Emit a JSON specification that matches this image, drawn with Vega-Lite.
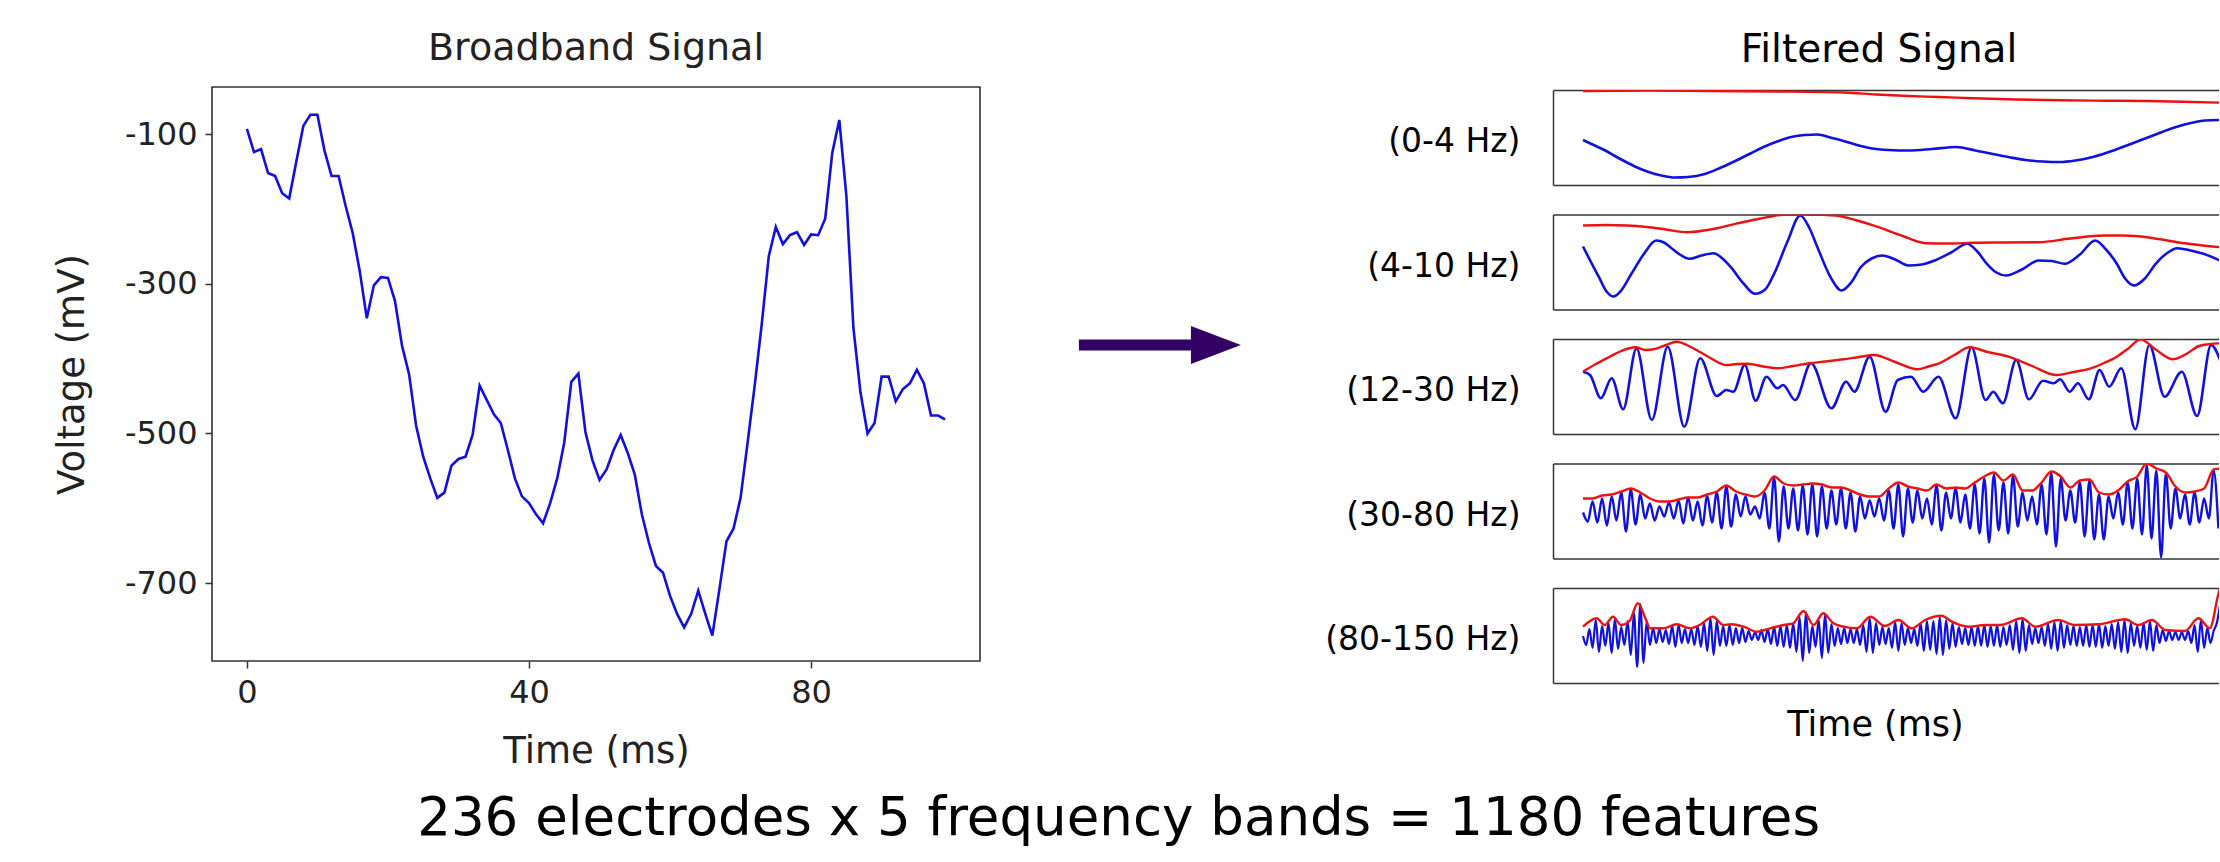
{
  "$schema": "https://vega.github.io/schema/vega-lite/v6.json",
  "background": "white",
  "padding": {"left": 52, "top": 29, "right": 0, "bottom": 0},
  "autosize": {"type": "pad"},
  "config": {"view": {"stroke": null}, "font": "DejaVu Sans"},
  "title": {"text": "236 electrodes x 5 frequency bands = 1180 features", "orient": "bottom", "anchor": "middle", "frame": "bounds", "dx": -17, "offset": 65, "fontSize": 53, "font": "DejaVu Sans", "fontWeight": "normal", "color": "#000000", "baseline": "alphabetic"},
  "bounds": "flush",
  "spacing": 20,
  "hconcat": [
    {
      "width": 768, "height": 574,
      "view": {"stroke": "#333333", "strokeWidth": 1.6},
      "title": {"text": "Broadband Signal", "fontSize": 38, "font": "DejaVu Sans", "fontWeight": "normal", "color": "#222222", "baseline": "middle", "offset": 0},
      "data": {"name": "bb"},
      "mark": {"type": "line", "color": "#1010e0", "strokeWidth": 2.6},
      "encoding": {
        "x": {"field": "t", "type": "quantitative", "scale": {"domain": [-4.95, 103.95], "nice": false, "zero": false},
          "axis": {"values": [0, 40, 80], "title": "Time (ms)", "grid": false, "domain": false, "labelFont": "DejaVu Sans", "labelFontSize": 32, "labelColor": "#222222", "labelBaseline": "middle", "labelPadding": 24, "labelFlush": false, "labelOverlap": false, "tickSize": 7, "tickColor": "#333333", "tickWidth": 1.5, "titleFont": "DejaVu Sans", "titleFontSize": 37, "titleFontWeight": "normal", "titleColor": "#222222", "titleBaseline": "middle", "titleY": 90}},
        "y": {"field": "v", "type": "quantitative", "scale": {"domain": [-804, -37], "nice": false, "zero": false},
          "axis": {"values": [-100, -300, -500, -700], "labelExpr": "'-' + format(abs(datum.value), 'd')", "title": "Voltage (mV)", "grid": false, "domain": false, "labelFont": "DejaVu Sans", "labelFontSize": 32, "labelColor": "#222222", "labelPadding": 8, "labelFlush": false, "labelOverlap": false, "tickSize": 7, "tickColor": "#333333", "tickWidth": 1.5, "titleFont": "DejaVu Sans", "titleFontSize": 37, "titleFontWeight": "normal", "titleColor": "#222222", "titleBaseline": "middle", "titleAngle": 270, "titleX": -140, "titleY": 287}}
      }
    },
    {
      "width": 533, "height": 516,
      "data": {"values": [{"item": "arrow"}]},
      "mark": {"type": "point", "shape": "M -1 -0.068 L 0.383 -0.068 L 0.383 -0.235 L 1 0 L 0.383 0.235 L 0.383 0.068 L -1 0.068 Z", "filled": true, "color": "#330066", "opacity": 1, "size": 26244, "strokeWidth": 0},
      "encoding": {
        "x": {"datum": 0.3, "type": "quantitative", "scale": {"domain": [0, 1], "nice": false, "zero": false}, "axis": null},
        "y": {"datum": 0.5, "type": "quantitative", "scale": {"domain": [0, 1], "nice": false, "zero": false}, "axis": null}
      }
    },
    {
      "bounds": "flush",
      "spacing": 2,
      "vconcat": [
        {"width": 666, "height": 1, "data": {"values": [{"s": ""}]}, "mark": {"type": "text"}, "encoding": {"text": {"field": "s"}}},
        {
          "bounds": "flush",
          "spacing": 29.5,
          "vconcat": [
            {
              "width": 666, "height": 95,
              "title": {"text": "Filtered Signal", "frame": "group", "anchor": "middle", "dx": -7, "fontSize": 39, "font": "DejaVu Sans", "fontWeight": "normal", "color": "#000000", "baseline": "middle", "offset": 1},
              "encoding": {"y": {"field": "v", "type": "quantitative", "scale": {"domain": [0, 95], "nice": false, "zero": false}, "axis": {"title": "(0-4 Hz)", "domain": true, "domainColor": "#333333", "domainWidth": 1.5, "ticks": false, "labels": false, "grid": false, "titleAngle": 0, "titleAlign": "right", "titleBaseline": "middle", "titleX": -33, "titleY": 51.5, "titleFontSize": 33, "titleFont": "DejaVu Sans", "titleFontWeight": "normal", "titleColor": "#000000"}}},
              "layer": [
                {"data": {"name": "b1"}, "mark": {"type": "line", "color": "#1010e0", "strokeWidth": 2.6, "interpolate": "monotone", "clip": true},
                  "encoding": {"x": {"field": "t", "type": "quantitative", "scale": {"domain": [-4.71, 99.84], "nice": false, "zero": false}, "axis": {"orient": "bottom", "title": null, "domain": true, "domainColor": "#333333", "domainWidth": 1.5, "ticks": false, "labels": false, "grid": false}}}},
                {"data": {"name": "r1"}, "mark": {"type": "line", "color": "#ee1111", "strokeWidth": 2.4, "interpolate": "monotone", "clip": true},
                  "encoding": {"x": {"field": "t", "type": "quantitative", "scale": {"domain": [-4.71, 99.84], "nice": false, "zero": false}, "axis": {"orient": "top", "title": null, "domain": true, "domainColor": "#333333", "domainWidth": 1.5, "ticks": false, "labels": false, "grid": false}}}}
              ],
              "resolve": {"axis": {"x": "independent"}}
            },
            {
              "width": 666, "height": 95,
              "encoding": {"y": {"field": "v", "type": "quantitative", "scale": {"domain": [0, 95], "nice": false, "zero": false}, "axis": {"title": "(4-10 Hz)", "domain": true, "domainColor": "#333333", "domainWidth": 1.5, "ticks": false, "labels": false, "grid": false, "titleAngle": 0, "titleAlign": "right", "titleBaseline": "middle", "titleX": -33, "titleY": 51.5, "titleFontSize": 33, "titleFont": "DejaVu Sans", "titleFontWeight": "normal", "titleColor": "#000000"}}},
              "layer": [
                {"data": {"name": "b2"}, "mark": {"type": "line", "color": "#1010e0", "strokeWidth": 2.6, "interpolate": "monotone", "clip": true},
                  "encoding": {"x": {"field": "t", "type": "quantitative", "scale": {"domain": [-4.71, 99.84], "nice": false, "zero": false}, "axis": {"orient": "bottom", "title": null, "domain": true, "domainColor": "#333333", "domainWidth": 1.5, "ticks": false, "labels": false, "grid": false}}}},
                {"data": {"name": "r2"}, "mark": {"type": "line", "color": "#ee1111", "strokeWidth": 2.4, "interpolate": "monotone", "clip": true},
                  "encoding": {"x": {"field": "t", "type": "quantitative", "scale": {"domain": [-4.71, 99.84], "nice": false, "zero": false}, "axis": {"orient": "top", "title": null, "domain": true, "domainColor": "#333333", "domainWidth": 1.5, "ticks": false, "labels": false, "grid": false}}}}
              ],
              "resolve": {"axis": {"x": "independent"}}
            },
            {
              "width": 666, "height": 95,
              "encoding": {"y": {"field": "v", "type": "quantitative", "scale": {"domain": [0, 95], "nice": false, "zero": false}, "axis": {"title": "(12-30 Hz)", "domain": true, "domainColor": "#333333", "domainWidth": 1.5, "ticks": false, "labels": false, "grid": false, "titleAngle": 0, "titleAlign": "right", "titleBaseline": "middle", "titleX": -33, "titleY": 51.5, "titleFontSize": 33, "titleFont": "DejaVu Sans", "titleFontWeight": "normal", "titleColor": "#000000"}}},
              "layer": [
                {"data": {"name": "b3"}, "mark": {"type": "line", "color": "#1010e0", "strokeWidth": 2.6, "interpolate": "monotone", "clip": true},
                  "encoding": {"x": {"field": "t", "type": "quantitative", "scale": {"domain": [-4.71, 99.84], "nice": false, "zero": false}, "axis": {"orient": "bottom", "title": null, "domain": true, "domainColor": "#333333", "domainWidth": 1.5, "ticks": false, "labels": false, "grid": false}}}},
                {"data": {"name": "r3"}, "mark": {"type": "line", "color": "#ee1111", "strokeWidth": 2.4, "interpolate": "monotone", "clip": true},
                  "encoding": {"x": {"field": "t", "type": "quantitative", "scale": {"domain": [-4.71, 99.84], "nice": false, "zero": false}, "axis": {"orient": "top", "title": null, "domain": true, "domainColor": "#333333", "domainWidth": 1.5, "ticks": false, "labels": false, "grid": false}}}}
              ],
              "resolve": {"axis": {"x": "independent"}}
            },
            {
              "width": 666, "height": 95,
              "encoding": {"y": {"field": "v", "type": "quantitative", "scale": {"domain": [0, 95], "nice": false, "zero": false}, "axis": {"title": "(30-80 Hz)", "domain": true, "domainColor": "#333333", "domainWidth": 1.5, "ticks": false, "labels": false, "grid": false, "titleAngle": 0, "titleAlign": "right", "titleBaseline": "middle", "titleX": -33, "titleY": 51.5, "titleFontSize": 33, "titleFont": "DejaVu Sans", "titleFontWeight": "normal", "titleColor": "#000000"}}},
              "layer": [
                {"data": {"name": "b4"}, "mark": {"type": "line", "color": "#1010e0", "strokeWidth": 2.4, "interpolate": "monotone", "clip": true},
                  "encoding": {"x": {"field": "t", "type": "quantitative", "scale": {"domain": [-4.71, 99.84], "nice": false, "zero": false}, "axis": {"orient": "bottom", "title": null, "domain": true, "domainColor": "#333333", "domainWidth": 1.5, "ticks": false, "labels": false, "grid": false}}}},
                {"data": {"name": "r4"}, "mark": {"type": "line", "color": "#ee1111", "strokeWidth": 2.4, "interpolate": "monotone", "clip": true},
                  "encoding": {"x": {"field": "t", "type": "quantitative", "scale": {"domain": [-4.71, 99.84], "nice": false, "zero": false}, "axis": {"orient": "top", "title": null, "domain": true, "domainColor": "#333333", "domainWidth": 1.5, "ticks": false, "labels": false, "grid": false}}}}
              ],
              "resolve": {"axis": {"x": "independent"}}
            },
            {
              "width": 666, "height": 95,
              "encoding": {"y": {"field": "v", "type": "quantitative", "scale": {"domain": [0, 95], "nice": false, "zero": false}, "axis": {"title": "(80-150 Hz)", "domain": true, "domainColor": "#333333", "domainWidth": 1.5, "ticks": false, "labels": false, "grid": false, "titleAngle": 0, "titleAlign": "right", "titleBaseline": "middle", "titleX": -33, "titleY": 51.5, "titleFontSize": 33, "titleFont": "DejaVu Sans", "titleFontWeight": "normal", "titleColor": "#000000"}}},
              "layer": [
                {"data": {"name": "b5"}, "mark": {"type": "line", "color": "#1010e0", "strokeWidth": 2.2, "interpolate": "monotone", "clip": true},
                  "encoding": {"x": {"field": "t", "type": "quantitative", "scale": {"domain": [-4.71, 99.84], "nice": false, "zero": false}, "axis": {"orient": "bottom", "title": "Time (ms)", "domain": true, "domainColor": "#333333", "domainWidth": 1.5, "ticks": false, "labels": false, "grid": false, "titleFont": "DejaVu Sans", "titleFontSize": 35, "titleFontWeight": "normal", "titleColor": "#000000", "titleBaseline": "middle", "titleX": 322, "titleY": 41}}}},
                {"data": {"name": "r5"}, "mark": {"type": "line", "color": "#ee1111", "strokeWidth": 2.4, "interpolate": "monotone", "clip": true},
                  "encoding": {"x": {"field": "t", "type": "quantitative", "scale": {"domain": [-4.71, 99.84], "nice": false, "zero": false}, "axis": {"orient": "top", "title": null, "domain": true, "domainColor": "#333333", "domainWidth": 1.5, "ticks": false, "labels": false, "grid": false}}}}
              ],
              "resolve": {"axis": {"x": "independent"}}
            }
          ]
        }
      ]
    }
  ],
  "datasets": {
    "bb": [
      {"t":0,"v":-93},{"t":1,"v":-124},{"t":2,"v":-120},{"t":3,"v":-152},{"t":4,"v":-156},{"t":5,"v":-179},{"t":6,"v":-186},{"t":7,"v":-137},{"t":8,"v":-89},{"t":9,"v":-74},
      {"t":10,"v":-74},{"t":11,"v":-122},{"t":12,"v":-156},{"t":13,"v":-156},{"t":14,"v":-196},{"t":15,"v":-232},{"t":16,"v":-283},{"t":17,"v":-346},{"t":18,"v":-302},{"t":19,"v":-291},
      {"t":20,"v":-292},{"t":21,"v":-323},{"t":22,"v":-383},{"t":23,"v":-421},{"t":24,"v":-490},{"t":25,"v":-531},{"t":26,"v":-560},{"t":27,"v":-586},{"t":28,"v":-579},{"t":29,"v":-543},
      {"t":30,"v":-534},{"t":31,"v":-531},{"t":32,"v":-502},{"t":33,"v":-436},{"t":34,"v":-455},{"t":35,"v":-474},{"t":36,"v":-486},{"t":37,"v":-522},{"t":38,"v":-560},{"t":39,"v":-584},
      {"t":40,"v":-593},{"t":41,"v":-608},{"t":42,"v":-620},{"t":43,"v":-593},{"t":44,"v":-560},{"t":45,"v":-512},{"t":46,"v":-431},{"t":47,"v":-420},{"t":48,"v":-498},{"t":49,"v":-536},
      {"t":50,"v":-562},{"t":51,"v":-548},{"t":52,"v":-522},{"t":53,"v":-502},{"t":54,"v":-526},{"t":55,"v":-555},{"t":56,"v":-608},{"t":57,"v":-646},{"t":58,"v":-677},{"t":59,"v":-686},
      {"t":60,"v":-717},{"t":61,"v":-741},{"t":62,"v":-759},{"t":63,"v":-741},{"t":64,"v":-710},{"t":65,"v":-741},{"t":66,"v":-770},{"t":67,"v":-708},{"t":68,"v":-644},{"t":69,"v":-627},
      {"t":70,"v":-586},{"t":71,"v":-512},{"t":72,"v":-436},{"t":73,"v":-354},{"t":74,"v":-263},{"t":75,"v":-224},{"t":76,"v":-247},{"t":77,"v":-235},{"t":78,"v":-231},{"t":79,"v":-248},
      {"t":80,"v":-234},{"t":81,"v":-235},{"t":82,"v":-213},{"t":83,"v":-125},{"t":84,"v":-81},{"t":85,"v":-182},{"t":86,"v":-359},{"t":87,"v":-445},{"t":88,"v":-500},{"t":89,"v":-486},
      {"t":90,"v":-424},{"t":91,"v":-424},{"t":92,"v":-457},{"t":93,"v":-441},{"t":94,"v":-433},{"t":95,"v":-415},{"t":96,"v":-433},{"t":97,"v":-476},{"t":98,"v":-476},{"t":99,"v":-481}
    ],
    "b1": [
      {"t":0,"v":45},{"t":1.5,"v":40.5},{"t":3.5,"v":34.5},{"t":5,"v":29},{"t":6.9,"v":22.5},{"t":8.5,"v":17.5},{"t":10.3,"v":13},{"t":12.3,"v":9.5},{"t":14.4,"v":7.5},{"t":16.5,"v":8},
      {"t":19.1,"v":11},{"t":21.5,"v":17},{"t":23.9,"v":24},{"t":26.3,"v":31.5},{"t":28.7,"v":39},{"t":30.7,"v":44},{"t":32.7,"v":48},{"t":34.8,"v":50},{"t":36.8,"v":50.5},{"t":38.8,"v":47.5},
      {"t":40.9,"v":44},{"t":43,"v":40},{"t":45,"v":37},{"t":48,"v":35},{"t":51.1,"v":34.5},{"t":54.8,"v":36},{"t":58.6,"v":38},{"t":61.6,"v":34.5},{"t":64.7,"v":30.5},{"t":67.1,"v":27.5},
      {"t":69.5,"v":25},{"t":72.2,"v":23.5},{"t":74.9,"v":23},{"t":77.3,"v":24.5},{"t":79.7,"v":27.5},{"t":82.1,"v":32},{"t":84.5,"v":37.5},{"t":87.2,"v":44},{"t":89.9,"v":50.5},{"t":92.6,"v":57},
      {"t":95.4,"v":62},{"t":97.7,"v":64.5},{"t":100,"v":65}
    ],
    "r1": [
      {"t":0,"v":94},{"t":10,"v":94.5},{"t":20,"v":94},{"t":30,"v":93.5},{"t":40.9,"v":92.5},{"t":46,"v":90.5},{"t":51.1,"v":89},{"t":56,"v":88},{"t":61.3,"v":86.7},{"t":68,"v":85.5},
      {"t":74.9,"v":84.7},{"t":82,"v":84.3},{"t":88.5,"v":84},{"t":94,"v":83.3},{"t":100,"v":82.3}
    ],
    "b2": [
      {"t":0,"v":63},{"t":1.2,"v":48},{"t":2.5,"v":32.3},{"t":3.7,"v":18},{"t":4.8,"v":13},{"t":6,"v":19},{"t":7.6,"v":35.7},{"t":9.5,"v":55},{"t":11.5,"v":69},{"t":12.7,"v":67},
      {"t":13.7,"v":62.3},{"t":15.2,"v":55},{"t":16.7,"v":50.7},{"t":18.6,"v":54},{"t":20.5,"v":56.3},{"t":21.9,"v":51},{"t":23.2,"v":42.3},{"t":25.2,"v":26},{"t":27,"v":15.7},{"t":28.6,"v":20},
      {"t":30,"v":35.7},{"t":32.1,"v":68},{"t":34.1,"v":94},{"t":35.5,"v":82},{"t":36.8,"v":62.3},{"t":38.8,"v":33},{"t":40.6,"v":19},{"t":42.1,"v":27},{"t":43.6,"v":42.3},{"t":45.3,"v":51},
      {"t":47,"v":54},{"t":49,"v":50},{"t":51.1,"v":44},{"t":53.2,"v":45},{"t":55.2,"v":49},{"t":57.8,"v":57},{"t":60.3,"v":65.7},{"t":61.9,"v":58},{"t":63.4,"v":45.7},{"t":64.9,"v":37},
      {"t":66.4,"v":34},{"t":68.9,"v":40},{"t":71.5,"v":49},{"t":73.6,"v":48.5},{"t":75.6,"v":45.7},{"t":78,"v":55},{"t":80.4,"v":69},{"t":82.1,"v":60},{"t":83.8,"v":45.7},{"t":85.1,"v":31},
      {"t":86.5,"v":24},{"t":88.2,"v":31},{"t":89.9,"v":45.7},{"t":91.6,"v":56},{"t":93.3,"v":61.3},{"t":95.4,"v":59},{"t":97.4,"v":55.7},{"t":100,"v":49}
    ],
    "r2": [
      {"t":0,"v":84},{"t":3.5,"v":84.5},{"t":6.9,"v":84},{"t":10,"v":82.5},{"t":13,"v":80},{"t":16.4,"v":77.3},{"t":20,"v":80},{"t":23.9,"v":85.7},{"t":27.5,"v":90.5},{"t":31.4,"v":94.7},
      {"t":35.5,"v":95},{"t":39.6,"v":94},{"t":43,"v":89},{"t":46.4,"v":82.3},{"t":50,"v":74},{"t":53.8,"v":66.3},{"t":57.5,"v":66},{"t":61.3,"v":66.7},{"t":66,"v":67},{"t":71.5,"v":67.3},
      {"t":76.5,"v":71},{"t":81.8,"v":74},{"t":84.5,"v":74},{"t":87.2,"v":73.3},{"t":90.3,"v":70.5},{"t":93.3,"v":67.3},{"t":96.7,"v":64.5},{"t":100,"v":62.3}
    ],
    "b3": [
      {"t":0,"v":62.3},{"t":1.1,"v":59},{"t":2.8,"v":35.7},{"t":4.5,"v":55.7},{"t":6.3,"v":24.7},{"t":8.4,"v":85.7},{"t":10.8,"v":14},{"t":13.3,"v":87.3},{"t":15.9,"v":7.3},{"t":18.4,"v":75.7},
      {"t":21,"v":38},{"t":22.5,"v":44},{"t":23.6,"v":42.3},{"t":25.4,"v":69},{"t":27.1,"v":33.3},{"t":28.8,"v":57.3},{"t":30.5,"v":45.7},{"t":31.4,"v":49},{"t":33.3,"v":34},{"t":35.8,"v":70.7},
      {"t":39,"v":25.7},{"t":41.3,"v":52.3},{"t":42.6,"v":42.3},{"t":45,"v":77.3},{"t":47.5,"v":22.3},{"t":49.4,"v":54},{"t":51.5,"v":57.3},{"t":53.4,"v":42.3},{"t":55.8,"v":57.3},{"t":58.5,"v":15.7},
      {"t":61,"v":86.7},{"t":63.2,"v":34},{"t":64.4,"v":42.3},{"t":65.9,"v":30.7},{"t":68,"v":74},{"t":70,"v":34.7},{"t":72.2,"v":53.3},{"t":73.9,"v":50.7},{"t":74.9,"v":54.7},{"t":76.4,"v":42.3},
      {"t":77.7,"v":50.7},{"t":79.4,"v":34.7},{"t":81.1,"v":64},{"t":82.6,"v":47.3},{"t":84.5,"v":65.7},{"t":86.7,"v":4.7},{"t":88.9,"v":89},{"t":91.3,"v":37.3},{"t":94,"v":62.3},{"t":96.4,"v":18},
      {"t":98.6,"v":89},{"t":100,"v":74}
    ],
    "r3": [
      {"t":0,"v":62.3},{"t":2,"v":70},{"t":4.2,"v":77.3},{"t":6,"v":83},{"t":8.2,"v":86.7},{"t":9.8,"v":84},{"t":11.3,"v":85},{"t":13,"v":89},{"t":14.7,"v":92.3},{"t":16.3,"v":89},
      {"t":17.8,"v":84},{"t":20,"v":76},{"t":22.5,"v":69},{"t":24.2,"v":70},{"t":25.9,"v":70.3},{"t":28.3,"v":67.5},{"t":30.7,"v":65.7},{"t":33,"v":68},{"t":35.5,"v":70.7},{"t":38,"v":72.5},
      {"t":40.9,"v":74.7},{"t":43.3,"v":77},{"t":45.7,"v":79},{"t":49,"v":72},{"t":52.5,"v":64.7},{"t":54.2,"v":67.5},{"t":55.9,"v":70.7},{"t":58.3,"v":79},{"t":60.7,"v":86.7},{"t":63.5,"v":82},
      {"t":66.8,"v":77.3},{"t":70.5,"v":68},{"t":74.3,"v":59},{"t":77,"v":62},{"t":79.7,"v":65.7},{"t":81.8,"v":71},{"t":83.8,"v":77.3},{"t":85.7,"v":86},{"t":87.5,"v":94.7},{"t":90,"v":84},
      {"t":92.6,"v":74.7},{"t":94.7,"v":80},{"t":96.7,"v":88},{"t":98.5,"v":90},{"t":100,"v":90.7}
    ],
    "b4": [
      {"t":0,"v":46},{"t":0.75,"v":37},{"t":1.5,"v":57},{"t":2.25,"v":36},{"t":3,"v":60},{"t":3.75,"v":33},{"t":4.5,"v":62},{"t":5.25,"v":38},{"t":6,"v":66},{"t":6.75,"v":27},
      {"t":7.5,"v":69},{"t":8.25,"v":34},{"t":9,"v":64},{"t":9.75,"v":40},{"t":10.5,"v":55},{"t":11.25,"v":38},{"t":12,"v":52},{"t":12.75,"v":42},{"t":13.5,"v":56},{"t":14.25,"v":40},
      {"t":15,"v":58},{"t":15.75,"v":35},{"t":16.5,"v":61},{"t":17.25,"v":38},{"t":18,"v":57},{"t":18.75,"v":33},{"t":19.5,"v":63},{"t":20.25,"v":36},{"t":21,"v":66},{"t":21.75,"v":30},
      {"t":22.5,"v":72},{"t":23.25,"v":32},{"t":24,"v":64},{"t":24.75,"v":42},{"t":25.5,"v":62},{"t":26.25,"v":44},{"t":27,"v":52},{"t":27.75,"v":40},{"t":28.5,"v":66},{"t":29.25,"v":30},
      {"t":30,"v":81},{"t":30.75,"v":17},{"t":31.5,"v":72},{"t":32.25,"v":30},{"t":33,"v":70},{"t":33.75,"v":28},{"t":34.5,"v":73},{"t":35.25,"v":24},{"t":36,"v":74},{"t":36.75,"v":22},
      {"t":37.5,"v":72},{"t":38.25,"v":30},{"t":39,"v":68},{"t":39.75,"v":34},{"t":40.5,"v":70},{"t":41.25,"v":30},{"t":42,"v":66},{"t":42.75,"v":27},{"t":43.5,"v":62},{"t":44.25,"v":40},
      {"t":45,"v":58},{"t":45.75,"v":42},{"t":46.5,"v":60},{"t":47.25,"v":38},{"t":48,"v":68},{"t":48.75,"v":30},{"t":49.5,"v":74},{"t":50.25,"v":22},{"t":51,"v":70},{"t":51.75,"v":36},
      {"t":52.5,"v":68},{"t":53.25,"v":40},{"t":54,"v":60},{"t":54.75,"v":34},{"t":55.5,"v":73},{"t":56.25,"v":28},{"t":57,"v":66},{"t":57.75,"v":40},{"t":58.5,"v":70},{"t":59.25,"v":36},
      {"t":60,"v":64},{"t":60.75,"v":30},{"t":61.5,"v":74},{"t":62.25,"v":25},{"t":63,"v":80},{"t":63.75,"v":16},{"t":64.5,"v":84},{"t":65.25,"v":28},{"t":66,"v":76},{"t":66.75,"v":25},
      {"t":67.5,"v":83},{"t":68.25,"v":32},{"t":69,"v":66},{"t":69.75,"v":38},{"t":70.5,"v":62},{"t":71.25,"v":34},{"t":72,"v":74},{"t":72.75,"v":24},{"t":73.5,"v":86},{"t":74.25,"v":12},
      {"t":75,"v":80},{"t":75.75,"v":38},{"t":76.5,"v":68},{"t":77.25,"v":36},{"t":78,"v":76},{"t":78.75,"v":22},{"t":79.5,"v":78},{"t":80.25,"v":19},{"t":81,"v":64},{"t":81.75,"v":19},
      {"t":82.5,"v":62},{"t":83.25,"v":40},{"t":84,"v":66},{"t":84.75,"v":34},{"t":85.5,"v":76},{"t":86.25,"v":30},{"t":87,"v":80},{"t":87.75,"v":24},{"t":88.5,"v":93},{"t":89.25,"v":20},
      {"t":90,"v":88},{"t":90.75,"v":1},{"t":91.5,"v":85},{"t":92.25,"v":30},{"t":93,"v":70},{"t":93.75,"v":40},{"t":94.5,"v":64},{"t":95.25,"v":34},{"t":96,"v":66},{"t":96.75,"v":36},
      {"t":97.5,"v":60},{"t":98.25,"v":40},{"t":99,"v":88},{"t":99.75,"v":30}
    ],
    "r4": [
      {"t":0,"v":60},{"t":1.5,"v":60},{"t":3,"v":63},{"t":4.5,"v":64},{"t":6,"v":67},{"t":7.5,"v":70},{"t":9,"v":66},{"t":10.5,"v":60},{"t":12,"v":57},{"t":13.5,"v":57},
      {"t":15,"v":59},{"t":16.5,"v":61},{"t":18,"v":61},{"t":19.5,"v":64},{"t":21,"v":67},{"t":22.5,"v":73},{"t":24,"v":67},{"t":25.5,"v":64},{"t":27,"v":62},{"t":28.5,"v":68},
      {"t":30,"v":82},{"t":31.5,"v":75},{"t":33,"v":73},{"t":34.5,"v":74},{"t":36,"v":75},{"t":37.5,"v":74},{"t":39,"v":71},{"t":40.5,"v":71},{"t":42,"v":68},{"t":43.5,"v":64},
      {"t":45,"v":62},{"t":46.5,"v":62},{"t":48,"v":70},{"t":49.5,"v":76},{"t":51,"v":72},{"t":52.5,"v":70},{"t":54,"v":68},{"t":55.5,"v":74},{"t":57,"v":70},{"t":58.5,"v":71},
      {"t":60,"v":70},{"t":61.5,"v":76},{"t":63,"v":82},{"t":64.5,"v":86},{"t":66,"v":78},{"t":67.5,"v":84},{"t":69,"v":68},{"t":70.5,"v":68},{"t":72,"v":76},{"t":73.5,"v":87},
      {"t":75,"v":82},{"t":76.5,"v":71},{"t":78,"v":78},{"t":79.5,"v":79},{"t":81,"v":66},{"t":82.5,"v":64},{"t":84,"v":68},{"t":85.5,"v":77},{"t":87,"v":82},{"t":88.5,"v":95},
      {"t":90,"v":90},{"t":91.5,"v":86},{"t":93,"v":72},{"t":94.5,"v":66},{"t":96,"v":67},{"t":97.5,"v":70},{"t":99,"v":89},{"t":100,"v":90}
    ],
    "b5": [
      {"t":0,"v":47},{"t":0.5,"v":38},{"t":1,"v":54},{"t":1.5,"v":35},{"t":2,"v":63},{"t":2.5,"v":31},{"t":3,"v":57},{"t":3.5,"v":37},{"t":4,"v":60},{"t":4.5,"v":30},
      {"t":5,"v":64},{"t":5.5,"v":34},{"t":6,"v":56},{"t":6.5,"v":38},{"t":7,"v":62},{"t":7.5,"v":28},{"t":8,"v":70},{"t":8.5,"v":16},{"t":9,"v":79},{"t":9.5,"v":20},
      {"t":10,"v":62},{"t":10.5,"v":38},{"t":11,"v":55},{"t":11.5,"v":40},{"t":12,"v":54},{"t":12.5,"v":41},{"t":13,"v":53},{"t":13.5,"v":39},{"t":14,"v":57},{"t":14.5,"v":36},
      {"t":15,"v":58},{"t":15.5,"v":40},{"t":16,"v":54},{"t":16.5,"v":40},{"t":17,"v":54},{"t":17.5,"v":38},{"t":18,"v":57},{"t":18.5,"v":36},{"t":19,"v":60},{"t":19.5,"v":32},
      {"t":20,"v":65},{"t":20.5,"v":28},{"t":21,"v":62},{"t":21.5,"v":37},{"t":22,"v":57},{"t":22.5,"v":37},{"t":23,"v":58},{"t":23.5,"v":38},{"t":24,"v":55},{"t":24.5,"v":40},
      {"t":25,"v":55},{"t":25.5,"v":41},{"t":26,"v":52},{"t":26.5,"v":43},{"t":27,"v":51},{"t":27.5,"v":43},{"t":28,"v":53},{"t":28.5,"v":41},{"t":29,"v":54},{"t":29.5,"v":39},
      {"t":30,"v":56},{"t":30.5,"v":37},{"t":31,"v":57},{"t":31.5,"v":36},{"t":32,"v":58},{"t":32.5,"v":35},{"t":33,"v":60},{"t":33.5,"v":31},{"t":34,"v":66},{"t":34.5,"v":22},
      {"t":35,"v":71},{"t":35.5,"v":30},{"t":36,"v":57},{"t":36.5,"v":36},{"t":37,"v":63},{"t":37.5,"v":25},{"t":38,"v":69},{"t":38.5,"v":30},{"t":39,"v":59},{"t":39.5,"v":37},
      {"t":40,"v":55},{"t":40.5,"v":39},{"t":41,"v":55},{"t":41.5,"v":40},{"t":42,"v":54},{"t":42.5,"v":40},{"t":43,"v":54},{"t":43.5,"v":38},{"t":44,"v":58},{"t":44.5,"v":31},
      {"t":45,"v":65},{"t":45.5,"v":30},{"t":46,"v":60},{"t":46.5,"v":38},{"t":47,"v":56},{"t":47.5,"v":39},{"t":48,"v":55},{"t":48.5,"v":35},{"t":49,"v":61},{"t":49.5,"v":32},
      {"t":50,"v":60},{"t":50.5,"v":38},{"t":51,"v":55},{"t":51.5,"v":40},{"t":52,"v":54},{"t":52.5,"v":37},{"t":53,"v":60},{"t":53.5,"v":32},{"t":54,"v":62},{"t":54.5,"v":33},
      {"t":55,"v":62},{"t":55.5,"v":29},{"t":56,"v":66},{"t":56.5,"v":28},{"t":57,"v":63},{"t":57.5,"v":34},{"t":58,"v":60},{"t":58.5,"v":36},{"t":59,"v":56},{"t":59.5,"v":39},
      {"t":60,"v":55},{"t":60.5,"v":38},{"t":61,"v":56},{"t":61.5,"v":37},{"t":62,"v":57},{"t":62.5,"v":37},{"t":63,"v":58},{"t":63.5,"v":36},{"t":64,"v":57},{"t":64.5,"v":37},
      {"t":65,"v":58},{"t":65.5,"v":36},{"t":66,"v":56},{"t":66.5,"v":38},{"t":67,"v":58},{"t":67.5,"v":33},{"t":68,"v":62},{"t":68.5,"v":30},{"t":69,"v":64},{"t":69.5,"v":32},
      {"t":70,"v":58},{"t":70.5,"v":39},{"t":71,"v":55},{"t":71.5,"v":40},{"t":72,"v":56},{"t":72.5,"v":37},{"t":73,"v":59},{"t":73.5,"v":34},{"t":74,"v":61},{"t":74.5,"v":32},
      {"t":75,"v":62},{"t":75.5,"v":35},{"t":76,"v":58},{"t":76.5,"v":38},{"t":77,"v":57},{"t":77.5,"v":37},{"t":78,"v":56},{"t":78.5,"v":37},{"t":79,"v":58},{"t":79.5,"v":36},
      {"t":80,"v":58},{"t":80.5,"v":36},{"t":81,"v":59},{"t":81.5,"v":35},{"t":82,"v":57},{"t":82.5,"v":37},{"t":83,"v":59},{"t":83.5,"v":34},{"t":84,"v":61},{"t":84.5,"v":31},
      {"t":85,"v":63},{"t":85.5,"v":30},{"t":86,"v":60},{"t":86.5,"v":37},{"t":87,"v":57},{"t":87.5,"v":35},{"t":88,"v":60},{"t":88.5,"v":33},{"t":89,"v":62},{"t":89.5,"v":32},
      {"t":90,"v":58},{"t":90.5,"v":40},{"t":91,"v":53},{"t":91.5,"v":42},{"t":92,"v":52},{"t":92.5,"v":43},{"t":93,"v":51},{"t":93.5,"v":43},{"t":94,"v":51},{"t":94.5,"v":43},
      {"t":95,"v":52},{"t":95.5,"v":40},{"t":96,"v":58},{"t":96.5,"v":31},{"t":97,"v":63},{"t":97.5,"v":35},{"t":98,"v":55},{"t":98.5,"v":40},{"t":99,"v":52},{"t":99.5,"v":60},
      {"t":100,"v":78}
    ],
    "r5": [
      {"t":0,"v":56.3},{"t":2.15,"v":64.7},{"t":3.4,"v":58},{"t":4.7,"v":66.3},{"t":6,"v":58},{"t":7.3,"v":62},{"t":8.6,"v":79.7},{"t":9.9,"v":63},{"t":10.5,"v":54.7},{"t":12.6,"v":54.7},
      {"t":14.7,"v":58.7},{"t":16.8,"v":54.7},{"t":18.3,"v":58},{"t":20.4,"v":66.3},{"t":22,"v":58},{"t":23.3,"v":58.7},{"t":25.2,"v":56.3},{"t":27.3,"v":51.3},{"t":29.4,"v":54.7},{"t":31.5,"v":58},
      {"t":33,"v":59.7},{"t":34.6,"v":72},{"t":36.2,"v":58},{"t":37.7,"v":69.7},{"t":39.3,"v":59.7},{"t":40.9,"v":56.3},{"t":43,"v":54.7},{"t":45.1,"v":66.3},{"t":47.4,"v":57},{"t":49.5,"v":63},
      {"t":51.6,"v":54.7},{"t":53.7,"v":63},{"t":56.3,"v":67.3},{"t":57.9,"v":61.3},{"t":60.5,"v":56.3},{"t":63.1,"v":58},{"t":65.5,"v":58},{"t":68.9,"v":64.7},{"t":71,"v":56.3},{"t":74.6,"v":63},
      {"t":77.2,"v":58},{"t":80.9,"v":58.7},{"t":85.1,"v":63.7},{"t":87.2,"v":58},{"t":89.3,"v":63},{"t":91.4,"v":53},{"t":94.5,"v":52},{"t":96.6,"v":64.7},{"t":98.4,"v":54.7},{"t":99.7,"v":88},
      {"t":100,"v":95}
    ]
  }
}
